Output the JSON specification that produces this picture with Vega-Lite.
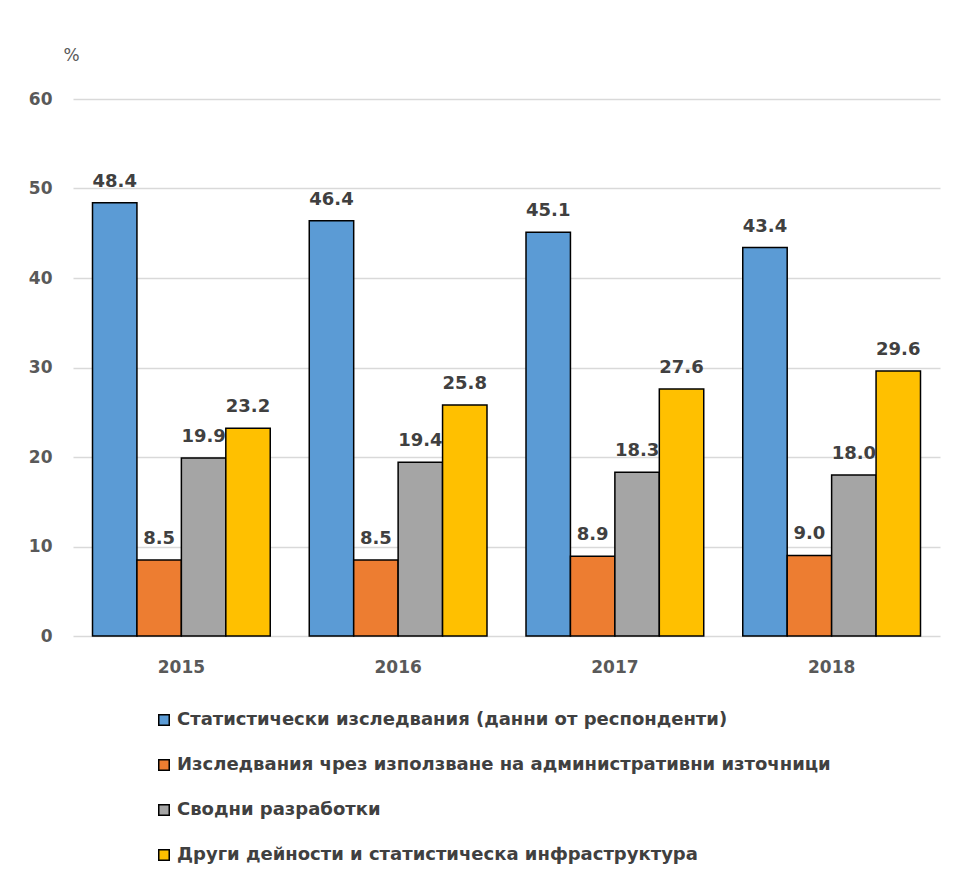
{
  "$schema": "https://vega.github.io/schema/vega-lite/v6.json",
  "autosize": {"type": "none"},
  "padding": {"left": 73, "top": 99, "right": 16, "bottom": 248},
  "width": 867,
  "height": 537,
  "background": "white",
  "config": {
    "view": {"stroke": null},
    "font": "DejaVu Sans"
  },
  "data": {
    "values": [
      {"year": "2015", "cat": "Статистически изследвания (данни от респонденти)", "value": 48.4},
      {"year": "2015", "cat": "Изследвания чрез използване на административни източници", "value": 8.5},
      {"year": "2015", "cat": "Сводни разработки", "value": 19.9},
      {"year": "2015", "cat": "Други дейности и статистическа инфраструктура", "value": 23.2},
      {"year": "2016", "cat": "Статистически изследвания (данни от респонденти)", "value": 46.4},
      {"year": "2016", "cat": "Изследвания чрез използване на административни източници", "value": 8.5},
      {"year": "2016", "cat": "Сводни разработки", "value": 19.4},
      {"year": "2016", "cat": "Други дейности и статистическа инфраструктура", "value": 25.8},
      {"year": "2017", "cat": "Статистически изследвания (данни от респонденти)", "value": 45.1},
      {"year": "2017", "cat": "Изследвания чрез използване на административни източници", "value": 8.9},
      {"year": "2017", "cat": "Сводни разработки", "value": 18.3},
      {"year": "2017", "cat": "Други дейности и статистическа инфраструктура", "value": 27.6},
      {"year": "2018", "cat": "Статистически изследвания (данни от респонденти)", "value": 43.4},
      {"year": "2018", "cat": "Изследвания чрез използване на административни източници", "value": 9.0},
      {"year": "2018", "cat": "Сводни разработки", "value": 18.0},
      {"year": "2018", "cat": "Други дейности и статистическа инфраструктура", "value": 29.6}
    ]
  },
  "encoding": {
    "x": {
      "field": "year", "type": "nominal",
      "scale": {"paddingInner": 0.18, "paddingOuter": 0.09},
      "axis": {
        "title": null, "labelAngle": 0, "domain": false, "ticks": false,
        "labelFont": "DejaVu Sans", "labelFontSize": 17, "labelFontWeight": "bold",
        "labelColor": "#595959", "labelPadding": 23
      }
    },
    "xOffset": {
      "field": "cat", "type": "nominal",
      "sort": ["Статистически изследвания (данни от респонденти)", "Изследвания чрез използване на административни източници", "Сводни разработки", "Други дейности и статистическа инфраструктура"],
      "scale": {"paddingInner": 0, "paddingOuter": 0}
    },
    "y": {
      "field": "value", "type": "quantitative",
      "scale": {"domain": [0, 60]},
      "axis": {
        "values": [0, 10, 20, 30, 40, 50, 60],
        "domain": false, "ticks": false,
        "gridColor": "#D9D9D9", "gridWidth": 1.5,
        "labelFont": "DejaVu Sans", "labelFontSize": 17, "labelFontWeight": "bold",
        "labelColor": "#595959", "labelPadding": 21,
        "title": "%", "titleAngle": 0, "titleX": -2, "titleY": -44,
        "titleAlign": "center", "titleBaseline": "middle",
        "titleFont": "DejaVu Sans", "titleFontSize": 17, "titleFontWeight": "normal", "titleColor": "#595959"
      }
    }
  },
  "layer": [
    {
      "mark": {"type": "bar", "stroke": "black", "strokeWidth": 1.5},
      "encoding": {
        "color": {
          "field": "cat", "type": "nominal",
          "scale": {
            "domain": ["Статистически изследвания (данни от респонденти)", "Изследвания чрез използване на административни източници", "Сводни разработки", "Други дейности и статистическа инфраструктура"],
            "range": ["#5B9BD5", "#ED7D31", "#A5A5A5", "#FFC000"]
          },
          "legend": {
            "title": null, "orient": "none", "legendX": 82, "legendY": 612,
            "direction": "vertical",
            "symbolType": "square", "symbolSize": 110,
            "symbolStrokeColor": "black", "symbolStrokeWidth": 1.5,
            "labelFont": "DejaVu Sans", "labelFontSize": 18, "labelFontWeight": "bold",
            "labelColor": "#404040", "labelLimit": 900, "labelOffset": 4,
            "rowPadding": 27
          }
        }
      }
    },
    {
      "mark": {"type": "text", "baseline": "alphabetic", "dy": -16, "font": "DejaVu Sans", "fontSize": 18, "fontWeight": "bold", "color": "#404040"},
      "encoding": {
        "text": {"field": "value", "type": "quantitative", "format": ".1f"}
      }
    }
  ]
}
